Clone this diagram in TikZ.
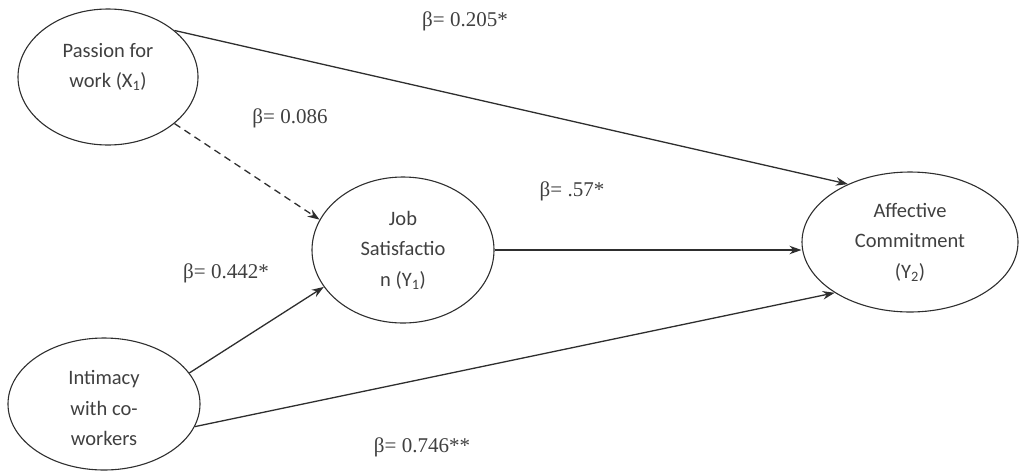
\documentclass[tikz,border=0pt]{standalone}
\usepackage{fontspec}
\setmainfont{Liberation Serif}
\newfontfamily\nodefont{Carlito}
\usetikzlibrary{shapes.geometric,arrows.meta}
\definecolor{ink}{HTML}{2E2E2E}
\definecolor{txt}{HTML}{404040}
\tikzset{
  var/.style={draw=ink, line width=1.1pt, ellipse, inner sep=0pt, align=center,
    font=\nodefont\fontsize{20.5}{30.5}\selectfont, text=txt},
  vartext/.style={align=center, inner sep=0pt,
    font=\nodefont\fontsize{20.5}{30.5}\selectfont, text=txt},
  path/.style={draw=ink, line width=1.3pt, -{Stealth[length=12pt,width=8.5pt]}},
  coef/.style={font=\fontsize{21}{24}\selectfont, text=txt, inner sep=0pt}
}
\begin{document}
\begin{tikzpicture}[x=1pt,y=-1pt]
\useasboundingbox (0,0) rectangle (1019,472);
\node[var, minimum width=180pt, minimum height=136pt] (p) at (108,77) {};
\node[vartext] (pt) at (108,67) {Passion for\\work (X\textsubscript{1})};
\node[var, minimum width=182pt, minimum height=146pt] (j) at (403,250) {Job\\Satisfactio\\n (Y\textsubscript{1})};
\node[var, minimum width=216pt, minimum height=140pt] (a) at (910,242) {Affective\\Commitment\\(Y\textsubscript{2})};
\node[var, minimum width=192pt, minimum height=132pt] (i) at (104,404) {};
\node[vartext] (it) at (104,408) {Intimacy\\with co-\\workers};
\draw[path] (p.35) -- (a.137);
\draw[path, dashed, dash pattern=on 7pt off 5pt] (p.-35) -- (j.160);
\draw[path] (j.east) -- (j.east -| a.west);
\draw[path] (i.20) -- (j.205);
\draw[path] (i.-14) -- (a.214);
\node[coef] (l1) at (465,21) {β= 0.205*};
\node[coef] (l2) at (290,118) {β= 0.086};
\node[coef] (l3) at (572,191) {β= .57*};
\node[coef] (l4) at (226,273) {β= 0.442*};
\node[coef] (l5) at (422,447) {β= 0.746**};
\end{tikzpicture}
\end{document}
